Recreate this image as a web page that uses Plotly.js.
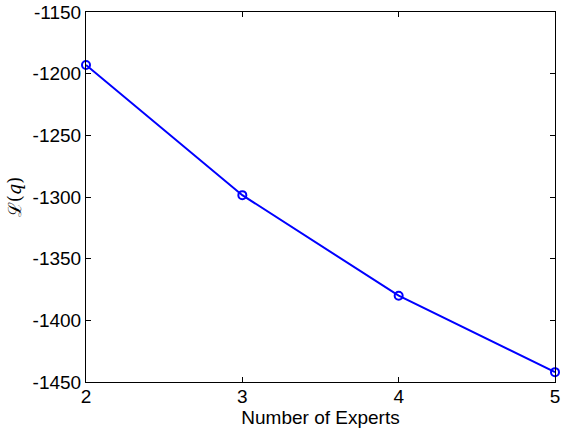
<!DOCTYPE html>
<html>
<head>
<meta charset="utf-8">
<script src="https://cdn.plot.ly/plotly-3.0.1.min.js"></script>
<style>html,body{margin:0;padding:0;background:#fff;}#chart{width:562px;height:429px;}</style>
</head>
<body>
<div id="chart"></div>
<script>
var numExperts = [2, 3, 4, 5];
var lowerBound = [-1193, -1298.5, -1380, -1442];
var xTickVals = [2, 3, 4, 5];
var yTickVals = [-1450, -1400, -1350, -1300, -1250, -1200, -1150];

var trace = {
  x: numExperts,
  y: lowerBound,
  type: 'scatter',
  mode: 'lines+markers',
  line: {color: '#0000ff', width: 2},
  marker: {symbol: 'circle-open', size: 8, color: '#0000ff', line: {width: 2, color: '#0000ff'}},
  cliponaxis: false,
  showlegend: false
};

var axisCommon = {
  showgrid: false,
  zeroline: false,
  showline: true,
  linecolor: '#000',
  linewidth: 1,
  mirror: 'ticks',
  ticks: 'inside',
  ticklen: 5,
  tickcolor: '#000',
  tickfont: {family: 'Liberation Sans, Arial, sans-serif', size: 19, color: '#000'}
};

var layout = {
  width: 562,
  height: 429,
  paper_bgcolor: '#fff',
  plot_bgcolor: '#fff',
  margin: {l: 86, r: 7, t: 12, b: 47},
  xaxis: Object.assign({}, axisCommon, {
    range: [2, 5],
    tickvals: xTickVals,
    ticktext: xTickVals.map(String),
    ticklabelstandoff: -3,
    title: {text: 'Number of Experts', font: {family: 'Liberation Sans, Arial, sans-serif', size: 19, color: '#000'}, standoff: 0}
  }),
  yaxis: Object.assign({}, axisCommon, {
    range: [-1450, -1150],
    tickvals: yTickVals,
    ticktext: yTickVals.map(String),
    title: {text: 'ℒ(<i>q</i>)', font: {family: 'DejaVu Serif, serif', size: 18, color: '#000'}, standoff: 6}
  })
};

Plotly.newPlot('chart', [trace], layout, {displayModeBar: false, staticPlot: true});
</script>
</body>
</html>
